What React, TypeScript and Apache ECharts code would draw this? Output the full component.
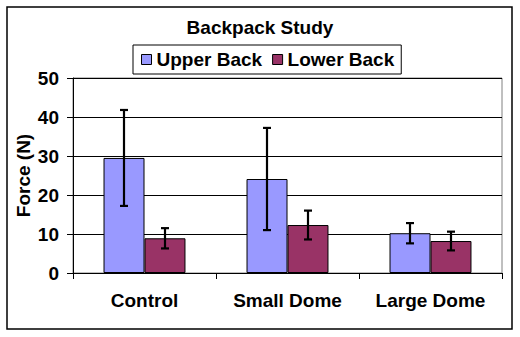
import React, { useEffect, useRef } from "react";
import * as echarts from "echarts";

const categories = ["Control", "Small Dome", "Large Dome"];
const upperBack = [29.5, 24.1, 10.2];
const lowerBack = [8.9, 12.3, 8.2];
const upperErr = [12.3, 13.1, 2.6];
const lowerErr = [2.6, 3.7, 2.4];
const seriesNames = ["Upper Back", "Lower Back"];
const yTicks = { min: 0, max: 50, interval: 10 };

const FONT = '"Liberation Sans", Arial, sans-serif';

export default function App() {
  const ref = useRef<HTMLDivElement>(null);
  useEffect(() => {
    if (!ref.current) return;
    const chart = echarts.init(ref.current, undefined, { renderer: "svg" });
    const barFrac = 41 / 143;
    const errData = (vals: number[], errs: number[], sign: number) =>
      vals.map((v, i) => [i, v, errs[i], sign]);
    const renderErr = (params: any, api: any) => {
      const idx = api.value(0);
      const v = api.value(1);
      const e = api.value(2);
      const sign = api.value(3);
      const band = api.size([1, 0])[0];
      const bw = band * barFrac;
      const x = api.coord([idx, v])[0] + (sign * bw) / 2;
      const yTop = api.coord([idx, v + e])[1];
      const yBot = api.coord([idx, v - e])[1];
      const cap = 4;
      const style = { stroke: "#000", lineWidth: 2.2 };
      return {
        type: "group",
        children: [
          { type: "line", shape: { x1: x, y1: yTop, x2: x, y2: yBot }, style },
          { type: "line", shape: { x1: x - cap, y1: yTop, x2: x + cap, y2: yTop }, style },
          { type: "line", shape: { x1: x - cap, y1: yBot, x2: x + cap, y2: yBot }, style },
        ],
      };
    };
    chart.setOption({
      animation: false,
      backgroundColor: "#fff",
      textStyle: { fontFamily: FONT },
      title: {
        text: "Backpack Study",
        left: "center",
        top: 18,
        padding: 0,
        textStyle: { fontFamily: FONT, fontWeight: "bold", fontSize: 19, color: "#000" },
      },
      legend: {
        data: seriesNames,
        left: 133,
        top: 45,
        padding: [5, 7, 5, 8],
        itemGap: 10,
        itemWidth: 10,
        itemHeight: 10,
        icon: "rect",
        borderColor: "#000",
        borderWidth: 1,
        itemStyle: { borderColor: "#000", borderWidth: 1 },
        textStyle: { fontFamily: FONT, fontWeight: "bold", fontSize: 19, color: "#000" },
      },
      graphic: [
        {
          type: "rect",
          shape: { x: 7, y: 7, width: 505, height: 322 },
          style: { fill: "none", stroke: "#000", lineWidth: 1.5 },
          silent: true,
          z: 0,
        },
      ],
      grid: {
        left: 73,
        right: 18,
        top: 78,
        bottom: 64,
        show: true,
        borderColor: "#808080",
        borderWidth: 1,
        containLabel: false,
      },
      xAxis: {
        type: "category",
        data: categories,
        axisLine: { lineStyle: { color: "#000", width: 1 } },
        axisTick: { show: true, length: 6, lineStyle: { color: "#000" } },
        axisLabel: {
          margin: 18,
          fontFamily: FONT,
          fontWeight: "bold",
          fontSize: 19,
          color: "#000",
        },
      },
      yAxis: {
        type: "value",
        min: yTicks.min,
        max: yTicks.max,
        interval: yTicks.interval,
        name: "Force (N)",
        nameLocation: "middle",
        nameGap: 40,
        nameMoveOverlap: false,
        nameTextStyle: { fontFamily: FONT, fontWeight: "bold", fontSize: 19, color: "#000" },
        axisLine: { show: true, lineStyle: { color: "#000", width: 1 } },
        axisTick: { show: true, length: 6, lineStyle: { color: "#000" } },
        splitLine: { show: true, lineStyle: { color: "#000", width: 1 } },
        axisLabel: {
          margin: 14,
          fontFamily: FONT,
          fontWeight: "bold",
          fontSize: 19,
          color: "#000",
        },
      },
      series: [
        {
          name: seriesNames[0],
          type: "bar",
          data: upperBack,
          barGap: "0%",
          barCategoryGap: "42.7%",
          itemStyle: { color: "#9999FF", borderColor: "#000", borderWidth: 1 },
        },
        {
          name: seriesNames[1],
          type: "bar",
          data: lowerBack,
          barGap: "0%",
          barCategoryGap: "42.7%",
          itemStyle: { color: "#993366", borderColor: "#000", borderWidth: 1 },
        },
        {
          name: "Upper Err",
          type: "custom",
          renderItem: renderErr,
          data: errData(upperBack, upperErr, -1),
          encode: { x: 0, y: 1 },
          z: 5,
          silent: true,
        },
        {
          name: "Lower Err",
          type: "custom",
          renderItem: renderErr,
          data: errData(lowerBack, lowerErr, 1),
          encode: { x: 0, y: 1 },
          z: 5,
          silent: true,
        },
      ],
    });
    return () => chart.dispose();
  }, []);
  return (
    <div
      ref={ref}
      style={{ position: "absolute", left: 0, top: 0, width: 520, height: 337 }}
    />
  );
}
